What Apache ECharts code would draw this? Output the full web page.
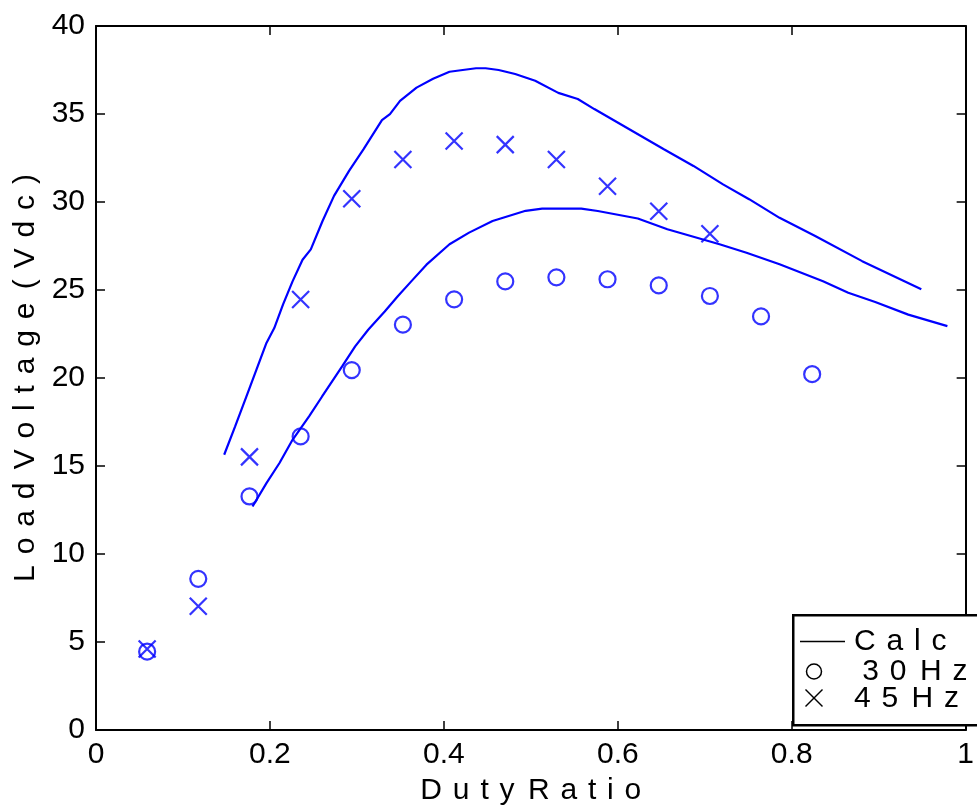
<!DOCTYPE html>
<html>
<head>
<meta charset="utf-8">
<script src="https://cdn.jsdelivr.net/npm/echarts@6/dist/echarts.min.js"></script>
<style>
html,body{margin:0;padding:0;background:#fff;}
#chart{width:977px;height:812px;}
</style>
</head>
<body>
<div id="chart"></div>
<script>
// ---- data ----
const duty30 = [0.0588, 0.1176, 0.1765, 0.2353, 0.2941, 0.3529, 0.4118, 0.4706, 0.5294, 0.5882, 0.6471, 0.7059, 0.7647, 0.8235];
const volt30 = [4.45, 8.59, 13.27, 16.68, 20.45, 23.03, 24.47, 25.49, 25.72, 25.61, 25.26, 24.66, 23.5, 20.22];
const duty45 = [0.0588, 0.1176, 0.1765, 0.2353, 0.2941, 0.3529, 0.4118, 0.4706, 0.5294, 0.5882, 0.6471, 0.7059];
const volt45 = [4.6, 7.03, 15.52, 24.46, 30.19, 32.42, 33.47, 33.26, 32.42, 30.9, 29.47, 28.2];
const calcDutyHi = [0.1474, 0.16, 0.173, 0.1845, 0.196, 0.205, 0.215, 0.226, 0.2375, 0.247, 0.2605, 0.2737, 0.291, 0.3077, 0.3288, 0.338, 0.3496, 0.3686, 0.3876, 0.4065, 0.4217, 0.437, 0.448, 0.463, 0.482, 0.505, 0.5316, 0.554, 0.573, 0.653, 0.687, 0.721, 0.751, 0.786, 0.827, 0.881, 0.949];
const calcVoltHi = [15.64, 17.25, 18.95, 20.47, 21.99, 22.84, 24.17, 25.49, 26.72, 27.31, 28.92, 30.35, 31.77, 33.0, 34.65, 34.99, 35.75, 36.5, 37.0, 37.4, 37.5, 37.6, 37.6, 37.5, 37.27, 36.89, 36.2, 35.85, 35.28, 33.0, 32.05, 31.0, 30.16, 29.1, 28.07, 26.64, 25.04];
const calcDutyLo = [0.18, 0.196, 0.211, 0.226, 0.245, 0.26, 0.283, 0.298, 0.313, 0.332, 0.347, 0.3625, 0.38, 0.4065, 0.429, 0.456, 0.494, 0.513, 0.558, 0.577, 0.623, 0.657, 0.717, 0.748, 0.786, 0.836, 0.865, 0.896, 0.934, 0.979];
const calcVoltLo = [12.7, 14.03, 15.17, 16.49, 17.82, 18.95, 20.66, 21.8, 22.74, 23.78, 24.64, 25.49, 26.44, 27.6, 28.26, 28.92, 29.5, 29.62, 29.62, 29.49, 29.06, 28.45, 27.6, 27.12, 26.46, 25.5, 24.84, 24.32, 23.6, 22.95];
const xTickLabels = ['0', '0.2', '0.4', '0.6', '0.8', '1'];
const yTickLabels = ['0', '5', '10', '15', '20', '25', '30', '35', '40'];
const legendNames = ['Calc', ' 30 Hz', '45 Hz'];
const xTitle = 'Duty Ratio';
const yTitle = 'Load Voltage (Vdc)';

// ---- helpers ----
const FONT = '"Liberation Sans", Arial, Helvetica, sans-serif';
const BLUE = '#0000ff';
const GAP = ' \u200A';
function spaced(s) {
  const lead = s.startsWith(' ') ? ' ' : '';
  return lead + s.trim().split(' ').map(w => Array.from(w).join(GAP)).join(GAP + '\u200A');
}
const pairs = (xs, ys) => xs.map((x, i) => [x, ys[i]]);
const CROSS = 'path://M0,0L10,10M10,0L0,10';

const chart = echarts.init(document.getElementById('chart'), null, {renderer: 'canvas'});

const axisCommon = {
  axisLine: {show: true, onZero: false, lineStyle: {color: '#000', width: 2}},
  axisTick: {show: true, inside: true, length: 9, lineStyle: {color: '#000', width: 1.5}},
  splitLine: {show: false}
};

const option = {
  animation: false,
  backgroundColor: '#fff',
  grid: {left: 96, top: 26, right: 1, bottom: 82, containLabel: false},
  xAxis: [
    Object.assign({
      type: 'value', position: 'bottom', min: 0, max: 1, interval: 0.2,
      name: spaced(xTitle), nameLocation: 'middle', nameGap: 46,
      nameTextStyle: {fontFamily: FONT, fontSize: 30, color: '#000'},
      axisLabel: {fontFamily: FONT, fontSize: 30, color: '#000', margin: 10,
        alignMinLabel: 'center', alignMaxLabel: 'center', hideOverlap: false,
        formatter: v => xTickLabels[Math.round(v / 0.2)]}
    }, axisCommon),
    Object.assign({
      type: 'value', position: 'top', min: 0, max: 1, interval: 0.2,
      axisLabel: {show: false}
    }, axisCommon)
  ],
  yAxis: [
    Object.assign({
      type: 'value', position: 'left', min: 0, max: 40, interval: 5,
      name: spaced(yTitle), nameLocation: 'middle', nameGap: 54, nameRotate: 90,
      nameTextStyle: {fontFamily: FONT, fontSize: 30, color: '#000'},
      axisLabel: {fontFamily: FONT, fontSize: 30, color: '#000', margin: 11,
        formatter: v => yTickLabels[Math.round(v / 5)]}
    }, axisCommon),
    Object.assign({
      type: 'value', position: 'right', min: 0, max: 40, interval: 5,
      axisLabel: {show: false}
    }, axisCommon)
  ],
  series: [
    {type: 'line', name: 'Calc45', data: pairs(calcDutyHi, calcVoltHi), showSymbol: false,
      lineStyle: {color: BLUE, width: 2.2}, silent: true, z: 3},
    {type: 'line', name: 'Calc30', data: pairs(calcDutyLo, calcVoltLo), showSymbol: false,
      lineStyle: {color: BLUE, width: 2.2}, silent: true, z: 3},
    {type: 'scatter', name: '30 Hz', data: pairs(duty30, volt30), symbol: 'circle', symbolSize: 16,
      itemStyle: {color: 'rgba(0,0,0,0)', borderColor: BLUE, borderWidth: 2.2}, silent: true, z: 4},
    {type: 'scatter', name: '45 Hz', data: pairs(duty45, volt45), symbol: CROSS, symbolSize: 17,
      itemStyle: {color: 'rgba(0,0,0,0)', borderColor: BLUE, borderWidth: 2.2}, silent: true, z: 4}
  ],
  graphic: [
    {type: 'rect', left: 792, top: 614, z: 10,
      shape: {width: 190, height: 110},
      style: {fill: '#fff', stroke: '#000', lineWidth: 2.5}},
    {type: 'line', z: 11, shape: {x1: 800, y1: 641.5, x2: 845, y2: 641.5},
      style: {stroke: '#000', lineWidth: 1.5}},
    {type: 'circle', z: 11, shape: {cx: 814, cy: 671.5, r: 7.5},
      style: {fill: 'none', stroke: '#000', lineWidth: 1.5}},
    {type: 'polyline', z: 11, shape: {points: [[805.5, 689.5], [822.5, 706.5]]},
      style: {stroke: '#000', lineWidth: 1.5}},
    {type: 'polyline', z: 11, shape: {points: [[822.5, 689.5], [805.5, 706.5]]},
      style: {stroke: '#000', lineWidth: 1.5}},
    {type: 'text', z: 11, x: 854, y: 641.5,
      style: {text: spaced(legendNames[0]), fontFamily: FONT, fontSize: 30, fill: '#000', verticalAlign: 'middle'}},
    {type: 'text', z: 11, x: 854, y: 671.5,
      style: {text: spaced(legendNames[1]), fontFamily: FONT, fontSize: 30, fill: '#000', verticalAlign: 'middle'}},
    {type: 'text', z: 11, x: 854, y: 698.5,
      style: {text: spaced(legendNames[2]), fontFamily: FONT, fontSize: 30, fill: '#000', verticalAlign: 'middle'}}
  ]
};
chart.setOption(option);
</script>
</body>
</html>
